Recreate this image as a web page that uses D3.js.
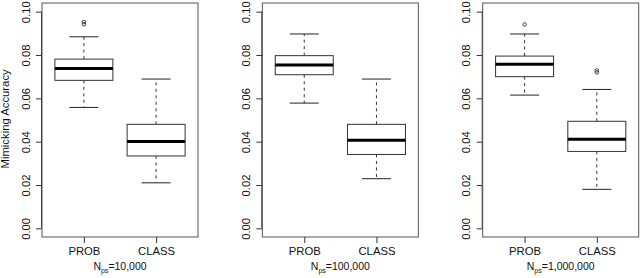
<!DOCTYPE html>
<html>
<head>
<meta charset="utf-8">
<script src="https://cdn.jsdelivr.net/npm/d3@7"></script>
<style>
  html, body { margin: 0; padding: 0; background: #fff; }
  svg { display: block; font-family: "Liberation Sans", Arial, Helvetica, sans-serif; }
  .tick text { fill: #111; }
</style>
</head>
<body>
<svg id="chart" width="640" height="278"></svg>
<script>
// ── Data ──────────────────────────────────────────────────────────────────────
const panelN    = ['10,000', '100,000', '1,000,000'];
const groups    = ['PROB', 'CLASS'];
const yTicks    = [0.00, 0.02, 0.04, 0.06, 0.08, 0.10];

// per panel: [PROB, CLASS]
const whiskLo   = [[0.0558, 0.0210], [0.0578, 0.0229], [0.0615, 0.0180]];
const q1        = [[0.0683, 0.0334], [0.0709, 0.0341], [0.0700, 0.0355]];
const medians   = [[0.0738, 0.0401], [0.0754, 0.0406], [0.0757, 0.0411]];
const q3        = [[0.0781, 0.0480], [0.0797, 0.0480], [0.0795, 0.0494]];
const whiskHi   = [[0.0884, 0.0689], [0.0897, 0.0689], [0.0897, 0.0641]];
const outliers  = [[[0.0952, 0.0942], []], [[], []], [[0.0941], [0.0729, 0.0720]]];

// ── Layout ────────────────────────────────────────────────────────────────────
const PANEL_STEP = 220.35;
const PLOT       = { left: 42, top: 3, width: 156, height: 234 };
const BOX_HALF   = 29;
const CAP_HALF   = 14.5;

const svg = d3.select('#chart');

const y = d3.scaleLinear().domain([-0.004, 0.104]).range([PLOT.height, 0]);
const x = d3.scaleLinear().domain([0.42, 2.58]).range([0, PLOT.width]);

// y-axis title
svg.append('text')
  .attr('transform', `translate(9,${PLOT.top + y(0.0505)}) rotate(-90)`)
  .attr('text-anchor', 'middle')
  .style('font-size', '11.3px')
  .attr('fill', '#111')
  .text('Mimicking Accuracy');

panelN.forEach((n, p) => {
  const g = svg.append('g')
    .attr('transform', `translate(${PLOT.left + p * PANEL_STEP},${PLOT.top})`);

  // ── Y axis ─────────────────────────────────────────────────────────────────
  const ya = g.append('g')
    .call(d3.axisLeft(y).tickValues(yTicks).tickSize(6).tickFormat(d3.format('.2f')));
  ya.select('.domain').attr('stroke', '#333').attr('d', `M-0.5,${y(0)}V${y(0.1)}`);
  ya.selectAll('.tick line').attr('stroke', '#333');
  ya.selectAll('.tick text')
    .attr('x', 0).attr('y', 0).attr('dy', 0)
    .attr('transform', 'translate(-12.5,0) rotate(-90)')
    .attr('text-anchor', 'middle')
    .style('font-size', '11.3px')
    .style('font-family', '"Liberation Sans", Arial, sans-serif');

  // ── X axis ─────────────────────────────────────────────────────────────────
  const xa = g.append('g')
    .attr('transform', `translate(0,${PLOT.height})`)
    .call(d3.axisBottom(x).tickValues([1, 2]).tickSize(6).tickFormat((d, i) => groups[i]));
  xa.select('.domain').remove();
  xa.selectAll('.tick line').attr('stroke', '#333');
  xa.selectAll('.tick text')
    .attr('y', 10)
    .style('font-size', '11.3px')
    .style('font-family', '"Liberation Sans", Arial, sans-serif');

  // N_ps label
  const lab = g.append('text')
    .attr('x', PLOT.width / 2)
    .attr('y', PLOT.height + 33)
    .attr('text-anchor', 'middle')
    .style('font-size', '10.5px')
    .attr('fill', '#111');
  lab.append('tspan').text('N');
  lab.append('tspan').attr('dy', 2.5).style('font-size', '7px').text('ps');
  lab.append('tspan').attr('dy', -2.5).text('=' + n);

  // ── Boxes ──────────────────────────────────────────────────────────────────
  groups.forEach((grp, i) => {
    const cx = x(i + 1);
    const b  = g.append('g');

    // whiskers (dashed)
    b.append('line')
      .attr('x1', cx).attr('x2', cx)
      .attr('y1', y(q3[p][i])).attr('y2', y(whiskHi[p][i]))
      .attr('stroke', '#333').attr('stroke-dasharray', '3,3.5');
    b.append('line')
      .attr('x1', cx).attr('x2', cx)
      .attr('y1', y(q1[p][i])).attr('y2', y(whiskLo[p][i]))
      .attr('stroke', '#333').attr('stroke-dasharray', '3,3.5');

    // staples
    [whiskHi[p][i], whiskLo[p][i]].forEach(v => {
      b.append('line')
        .attr('x1', cx - CAP_HALF).attr('x2', cx + CAP_HALF)
        .attr('y1', y(v)).attr('y2', y(v))
        .attr('stroke', '#222');
    });

    // box
    b.append('rect')
      .attr('x', cx - BOX_HALF)
      .attr('y', y(q3[p][i]))
      .attr('width', BOX_HALF * 2)
      .attr('height', y(q1[p][i]) - y(q3[p][i]))
      .attr('fill', '#fff')
      .attr('stroke', '#333');

    // median
    b.append('line')
      .attr('x1', cx - BOX_HALF).attr('x2', cx + BOX_HALF)
      .attr('y1', y(medians[p][i])).attr('y2', y(medians[p][i]))
      .attr('stroke', '#000').attr('stroke-width', 3);

    // outliers
    b.selectAll('circle')
      .data(outliers[p][i])
      .join('circle')
      .attr('cx', cx)
      .attr('cy', d => y(d))
      .attr('r', 1.8)
      .attr('fill', 'none')
      .attr('stroke', '#333')
      .attr('stroke-width', 0.9);
  });

  // plot frame
  g.append('rect')
    .attr('x', 0).attr('y', 0)
    .attr('width', PLOT.width).attr('height', PLOT.height)
    .attr('fill', 'none')
    .attr('stroke', '#555');
});
</script>
</body>
</html>
